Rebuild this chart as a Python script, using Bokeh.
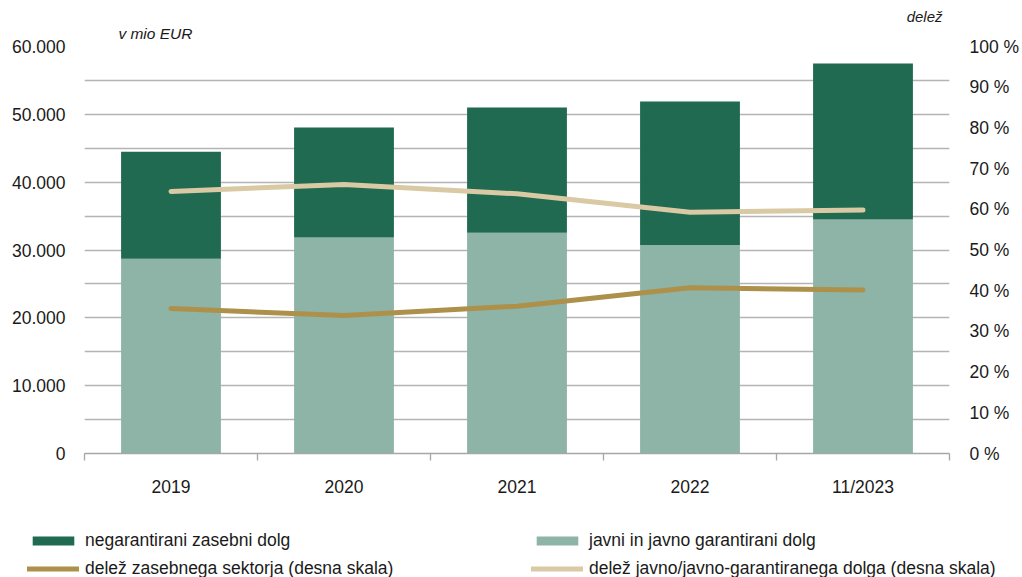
from bokeh.plotting import figure
from bokeh.models import (Range1d, LinearAxis, FixedTicker, Legend, LegendItem,
                          ColumnDataSource)
from bokeh.embed import file_html
from bokeh.resources import INLINE

categories = ["2019", "2020", "2021", "2022", "11/2023"]
javni = [28700, 31850, 32550, 30750, 34500]            # javni in javno garantirani dolg
negarant = [15800, 16200, 18450, 21150, 23000]         # negarantirani zasebni dolg
delez_zasebni = [35.6, 33.9, 36.2, 40.7, 40.2]          # % (desna skala)
delez_javni = [64.4, 66.1, 63.8, 59.3, 59.8]            # % (desna skala)
left_ticks = [0, 10000, 20000, 30000, 40000, 50000, 60000]
left_labels = ["0", "10.000", "20.000", "30.000", "40.000", "50.000", "60.000"]
right_ticks = [0, 10, 20, 30, 40, 50, 60, 70, 80, 90, 100]
right_labels = [f"{t} %" for t in right_ticks]
unit_left = "v mio EUR"
unit_right = "delež"

DARK = "#1f6a50"
LIGHT = "#8db4a6"
GOLD = "#ad914b"
BEIGE = "#d9caa5"
FONT = "Liberation Sans"
TXT = "#1a1a1a"
GRID = "#b4b4b4"
TICK_FS = "17.5px"
W = 1022

xs = list(range(len(categories)))
src = ColumnDataSource(dict(x=xs, javni=javni, negarant=negarant,
                            dz=delez_zasebni, dj=delez_javni))

# ---- main chart ----
p = figure(width=W, height=500, output_backend="svg", toolbar_location=None,
           x_range=Range1d(-0.5, len(categories) - 0.5), y_range=Range1d(0, 60000),
           min_border_left=84, min_border_right=72, min_border_top=46, min_border_bottom=47)
p.outline_line_color = None
p.xgrid.grid_line_color = None
p.ygrid.grid_line_color = GRID
p.ygrid.grid_line_width = 1.3
p.ygrid.minor_grid_line_color = GRID
p.ygrid.minor_grid_line_width = 1.3

p.extra_y_ranges = {"pct": Range1d(0, 100)}

p.vbar_stack(["javni", "negarant"], x="x", width=0.577, source=src,
             color=[LIGHT, DARK], line_color=None)
p.line("x", "dz", source=src, y_range_name="pct", line_color=GOLD, line_width=5,
       line_cap="round", line_join="round")
p.line("x", "dj", source=src, y_range_name="pct", line_color=BEIGE, line_width=5,
       line_cap="round", line_join="round")

ya = p.yaxis[0]
ya.ticker = FixedTicker(ticks=left_ticks,
                        minor_ticks=[t + 5000 for t in left_ticks[:-1]])
ya.major_label_overrides = {t: l for t, l in zip(left_ticks, left_labels)}
ya.axis_line_color = None
ya.major_tick_line_color = None
ya.minor_tick_line_color = None
ya.major_tick_out = 0
ya.minor_tick_out = 0
ya.major_label_standoff = 19
ya.major_label_text_font = FONT
ya.major_label_text_font_size = TICK_FS
ya.major_label_text_color = TXT

ra = LinearAxis(y_range_name="pct",
                ticker=FixedTicker(ticks=right_ticks),
                major_label_overrides={t: l for t, l in zip(right_ticks, right_labels)})
ra.axis_line_color = None
ra.major_tick_line_color = None
ra.minor_tick_line_color = None
ra.major_tick_out = 0
ra.minor_tick_out = 0
ra.major_label_standoff = 20
ra.major_label_text_font = FONT
ra.major_label_text_font_size = TICK_FS
ra.major_label_text_color = TXT
p.add_layout(ra, "right")

xa = p.xaxis[0]
xa.ticker = FixedTicker(ticks=xs, minor_ticks=[x - 0.5 for x in xs] + [xs[-1] + 0.5])
xa.major_label_overrides = {x: c for x, c in zip(xs, categories)}
xa.axis_line_color = "#a6a6a6"
xa.axis_line_width = 1.3
xa.major_tick_line_color = None
xa.major_tick_out = 0
xa.major_tick_in = 0
xa.minor_tick_line_color = "#a6a6a6"
xa.minor_tick_line_width = 1.3
xa.minor_tick_out = 7
xa.minor_tick_in = 0
xa.major_label_standoff = 16
xa.major_label_text_font = FONT
xa.major_label_text_font_size = TICK_FS
xa.major_label_text_color = TXT


# ---- unit captions, as labels of two bare axes above the frame ----
def unit_axis(pos, text, size, standoff):
    ax = LinearAxis(ticker=FixedTicker(ticks=[pos]), major_label_overrides={pos: text})
    ax.axis_line_color = None
    ax.major_tick_line_color = None
    ax.minor_tick_line_color = None
    ax.major_tick_out = 0
    ax.major_tick_in = 0
    ax.minor_tick_out = 0
    ax.major_label_standoff = standoff
    ax.major_label_text_font = FONT
    ax.major_label_text_font_style = "italic"
    ax.major_label_text_font_size = size
    ax.major_label_text_color = TXT
    return ax


p.add_layout(unit_axis(-0.09, unit_left, "15.5px", 5), "above")
p.add_layout(unit_axis(4.356, unit_right, "15px", -3), "above")

# ---- legend strip (glyphs reuse the real data, kept far out of view) ----
lp = figure(width=W, height=77, output_backend="svg", toolbar_location=None,
            x_range=Range1d(1e6, 1e6 + 1), y_range=Range1d(1e7, 1e7 + 1), min_border=0,
            x_axis_location=None, y_axis_location=None)
lp.outline_line_color = None
lp.grid.visible = False
r_dark = lp.vbar(x="x", top="negarant", width=0.5, source=src, color=DARK, line_color=None)
r_light = lp.vbar(x="x", top="javni", width=0.5, source=src, color=LIGHT, line_color=None)
r_gold = lp.line(x="x", y="dz", source=src, line_color=GOLD, line_width=5, line_cap="round")
r_beige = lp.line(x="x", y="dj", source=src, line_color=BEIGE, line_width=5, line_cap="round")


def make_legend(items, loc):
    return Legend(items=items, location=loc, orientation="vertical",
                  glyph_width=52, glyph_height=11, label_height=28, spacing=0,
                  padding=0, margin=0, label_standoff=6,
                  label_text_font=FONT, label_text_font_size="17.5px",
                  label_text_color=TXT, background_fill_alpha=0,
                  border_line_color=None)


lp.add_layout(make_legend(
    [LegendItem(label="negarantirani zasebni dolg", renderers=[r_dark]),
     LegendItem(label="delež zasebnega sektorja (desna skala)", renderers=[r_gold])],
    (27, -5)), "center")
lp.add_layout(make_legend(
    [LegendItem(label="javni in javno garantirani dolg", renderers=[r_light]),
     LegendItem(label="delež javno/javno-garantiranega dolga (desna skala)", renderers=[r_beige])],
    (531, -5)), "center")

open("out.html", "w").write(file_html([p, lp], INLINE))
